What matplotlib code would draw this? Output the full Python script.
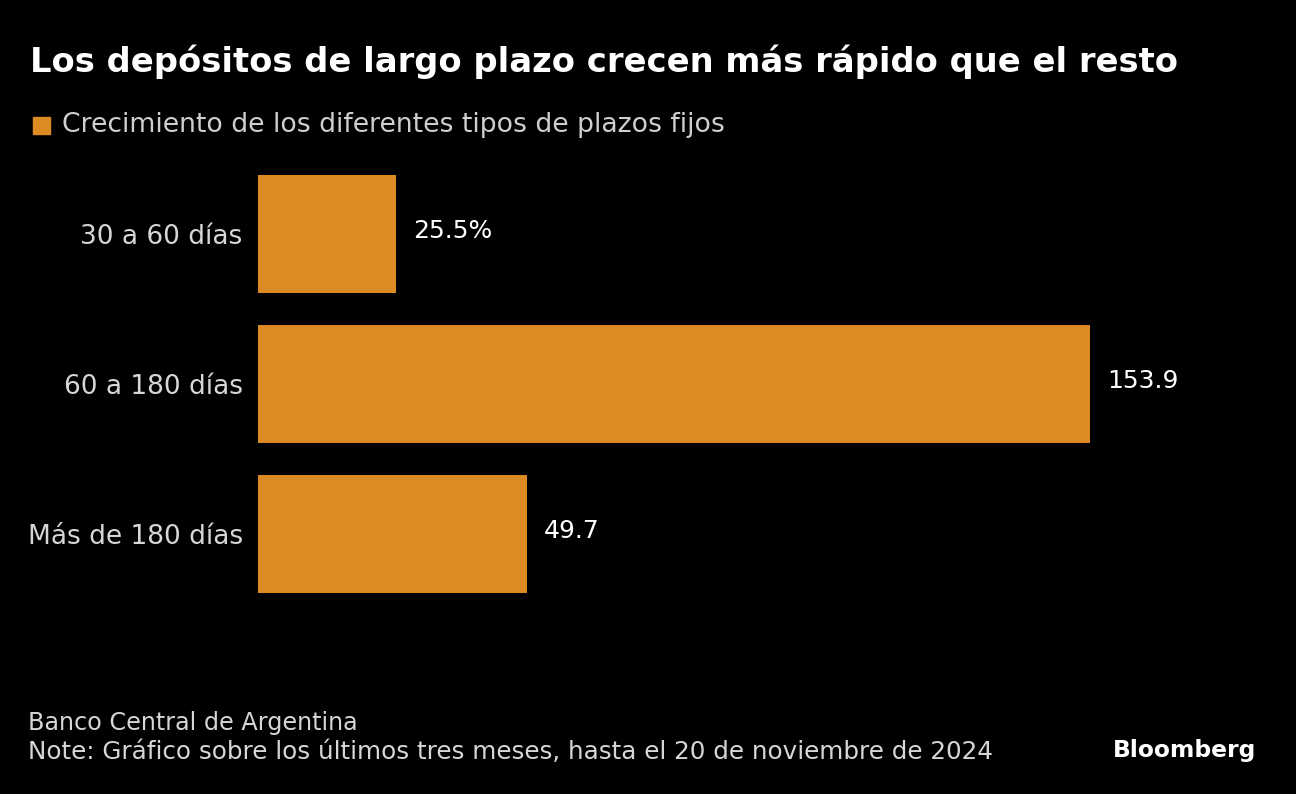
import matplotlib
matplotlib.use("Agg")
from matplotlib import pyplot as plt
from matplotlib.patches import Rectangle

# data
categories = ['30 a 60 días', '60 a 180 días', 'Más de 180 días']
growth = [25.5, 153.9, 49.7]
value_labels = ['25.5%', '153.9', '49.7']

BAR_COLOR = '#db8a24'
BG = '#000000'
FONT = ['DejaVu Sans']

plt.rcParams['font.family'] = FONT

fig = plt.figure(figsize=(12.96, 7.94), dpi=100, facecolor=BG)
ax = fig.add_axes([258 / 1296, 1 - 609 / 794, (1260 - 258) / 1296, 450 / 794])
ax.set_facecolor(BG)

ypos = list(range(len(categories)))
ax.barh(ypos, growth, height=0.787, color=BAR_COLOR)
ax.set_xlim(0, (1260 - 258) / 5.406)
ax.set_ylim(2.5, -0.5)

for y, v, lab in zip(ypos, growth, value_labels):
    ax.annotate(lab, (v, y), xytext=(12.5, 2), textcoords='offset points',
                va='center', ha='left', color='white', fontsize=18, family=FONT)

ax.set_yticks(ypos)
ax.set_yticklabels(categories, color='#d6d6d6', fontsize=19, family=FONT)
ax.tick_params(axis='y', length=0, pad=11)
for t in ax.get_yticklabels():
    t.set_y(t.get_position()[1])
ax.set_xticks([])
for sp in ax.spines.values():
    sp.set_visible(False)

# title and legend
fig.text(30 / 1296, 1 - 62 / 794, 'Los depósitos de largo plazo crecen más rápido que el resto',
         color='white', fontsize=24.3, fontweight='bold', va='center', ha='left', family=FONT)
fig.patches.append(Rectangle((33 / 1296, 1 - 134 / 794), 17 / 1296, 17 / 794,
                             transform=fig.transFigure, color=BAR_COLOR))
fig.text(62 / 1296, 1 - 125 / 794, 'Crecimiento de los diferentes tipos de plazos fijos',
         color='#cfcfcf', fontsize=19.2, va='center', ha='left', family=FONT)

# footer
fig.text(28 / 1296, 1 - 723 / 794, 'Banco Central de Argentina',
         color='#d6d6d6', fontsize=17.2, va='center', ha='left', family=FONT)
fig.text(28 / 1296, 1 - 752 / 794,
         'Note: Gráfico sobre los últimos tres meses, hasta el 20 de noviembre de 2024',
         color='#d6d6d6', fontsize=17.7, va='center', ha='left', family=FONT)
fig.text(1256 / 1296, 1 - 750 / 794, 'Bloomberg', color='white', fontsize=16.8,
         fontweight='bold', va='center', ha='right', family=FONT)

fig.savefig('out.png', dpi=100, facecolor=BG)
